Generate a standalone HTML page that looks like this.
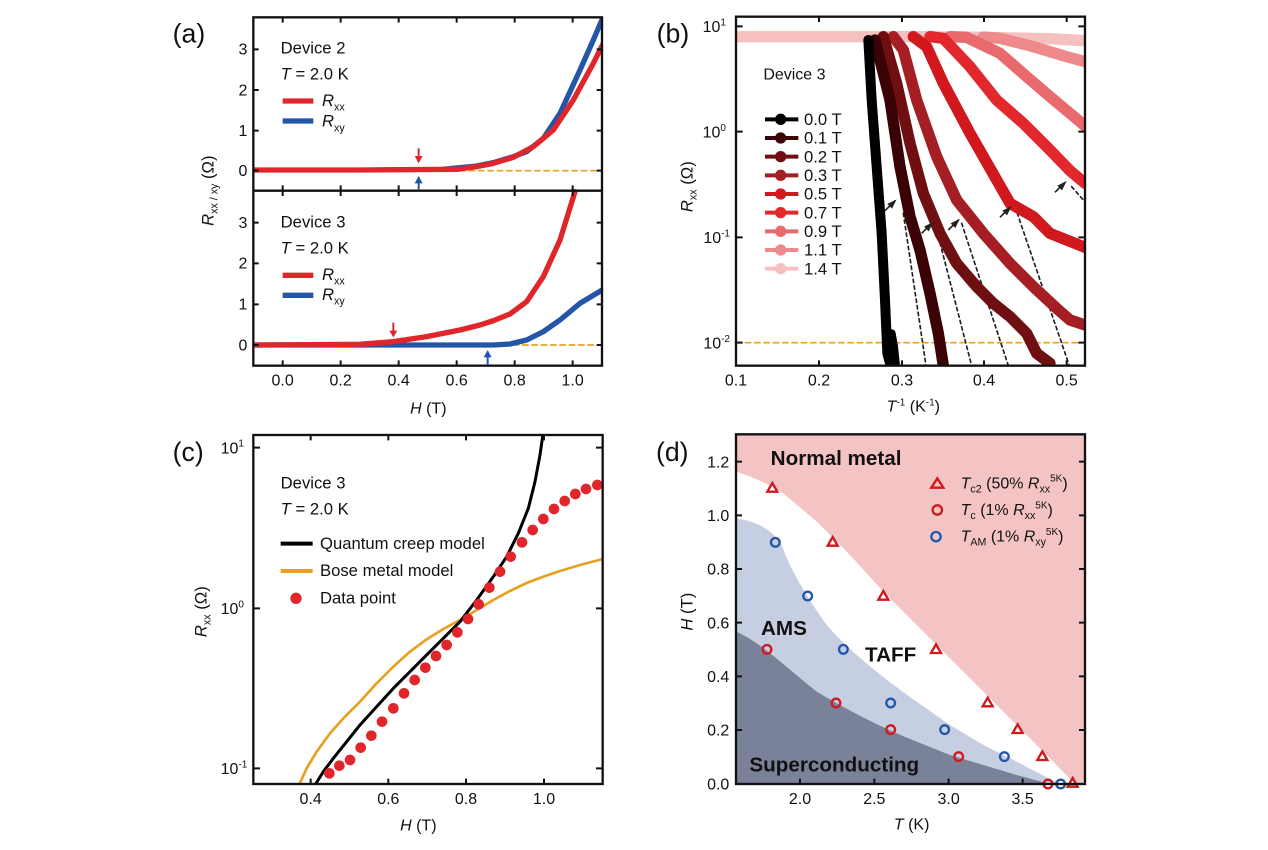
<!DOCTYPE html>
<html><head><meta charset="utf-8"><style>
body{margin:0;background:#fff}
svg text{font-family:"Liberation Sans",Arial,sans-serif;fill:#111}
</style></head><body>
<svg width="1268" height="845" viewBox="0 0 1268 845" xmlns="http://www.w3.org/2000/svg">
<rect width="1268" height="845" fill="#fff"/>

<!-- PANEL A -->
<g transform="translate(160,0) scale(0.33333)">
<defs><clipPath id="ca"><rect x="280" y="52" width="1046" height="1045"/></clipPath></defs>
<g clip-path="url(#ca)" fill="none" stroke-linejoin="round" stroke-linecap="round">
<line x1="900" y1="512" x2="1326" y2="512" stroke="#e8a020" stroke-width="5" stroke-dasharray="16,12"/>
<line x1="1060" y1="1035" x2="1326" y2="1035" stroke="#e8a020" stroke-width="5" stroke-dasharray="16,12"/>
<polyline stroke="#2355a8" stroke-width="16" points="850,508 950,498 1000,488 1060,470 1100,455 1150,415 1200,340 1260,210 1300,120 1330,50"/>
<polyline stroke="#e0262a" stroke-width="16" points="280,510 600,510 890,508 950,500 1000,490 1060,472 1120,440 1180,390 1240,300 1300,190 1330,130"/>
<polyline stroke="#2355a8" stroke-width="16" points="280,1035 1000,1035 1050,1032 1100,1020 1150,995 1200,960 1260,910 1330,868"/>
<polyline stroke="#e0262a" stroke-width="16" points="280,1035 600,1033 700,1025 800,1010 900,990 960,975 1000,962 1050,942 1100,905 1150,830 1200,720 1245,575"/>
</g>
<g fill="none" stroke="#111" stroke-width="7">
<rect x="280" y="52" width="1046" height="1045"/>
<line x1="280" y1="572" x2="1326" y2="572"/>
</g>
<g stroke="#111" stroke-width="6">
<path d="M368,1097v-16M542,1097v-16M716,1097v-16M890,1097v-16M1064,1097v-16M1238,1097v-16
M368,52v16M542,52v16M716,52v16M890,52v16M1064,52v16M1238,52v16
M368,572v-16M542,572v-16M716,572v-16M890,572v-16M1064,572v-16M1238,572v-16
M368,572v16M542,572v16M716,572v16M890,572v16M1064,572v16M1238,572v16
M280,148h16M280,270h16M280,392h16M280,512h16M280,668h16M280,790h16M280,913h16M280,1035h16
M1326,148h-16M1326,270h-16M1326,392h-16M1326,512h-16M1326,668h-16M1326,790h-16M1326,913h-16M1326,1035h-16"/>
</g>
<g stroke-width="6">
<line x1="776" y1="445" x2="776" y2="478" stroke="#e0262a"/><polygon points="764,468 788,468 776,490" fill="#e0262a"/>
<line x1="776" y1="568" x2="776" y2="540" stroke="#2355a8"/><polygon points="764,550 788,550 776,528" fill="#2355a8"/>
<line x1="700" y1="968" x2="700" y2="1000" stroke="#e0262a"/><polygon points="688,992 712,992 700,1012" fill="#e0262a"/>
<line x1="983" y1="1095" x2="983" y2="1065" stroke="#2355a8"/><polygon points="971,1072 995,1072 983,1050" fill="#2355a8"/>
</g>
<g font-size="48" text-anchor="end">
<text x="262" y="164">3</text><text x="262" y="286">2</text><text x="262" y="408">1</text><text x="262" y="528">0</text>
<text x="262" y="684">3</text><text x="262" y="806">2</text><text x="262" y="929">1</text><text x="262" y="1051">0</text>
</g>
<g font-size="48" text-anchor="middle">
<text x="368" y="1157">0.0</text><text x="542" y="1157">0.2</text><text x="716" y="1157">0.4</text><text x="890" y="1157">0.6</text><text x="1064" y="1157">0.8</text><text x="1238" y="1157">1.0</text>
<text x="805" y="1240"><tspan font-style="italic">H</tspan> (T)</text>
</g>
<text x="38" y="128" font-size="80">(a)</text>
<g font-size="50">
<text x="362" y="160">Device 2</text>
<text x="362" y="238"><tspan font-style="italic">T</tspan> = 2.0 K</text>
<text x="486" y="318" font-style="italic">R<tspan font-size="32" font-style="normal" dy="14">xx</tspan></text>
<text x="486" y="380" font-style="italic">R<tspan font-size="32" font-style="normal" dy="14">xy</tspan></text>
<text x="362" y="683">Device 3</text>
<text x="362" y="760"><tspan font-style="italic">T</tspan> = 2.0 K</text>
<text x="486" y="840" font-style="italic">R<tspan font-size="32" font-style="normal" dy="14">xx</tspan></text>
<text x="486" y="900" font-style="italic">R<tspan font-size="32" font-style="normal" dy="14">xy</tspan></text>
</g>
<g stroke-width="16">
<line x1="368" y1="303" x2="460" y2="303" stroke="#e0262a"/>
<line x1="368" y1="363" x2="460" y2="363" stroke="#2355a8"/>
<line x1="368" y1="826" x2="460" y2="826" stroke="#e0262a"/>
<line x1="368" y1="886" x2="460" y2="886" stroke="#2355a8"/>
</g>
<text transform="translate(160,572) rotate(-90)" font-size="50" text-anchor="middle"><tspan font-style="italic">R</tspan><tspan font-size="32" dy="12">xx / xy</tspan><tspan dy="-12"> (Ω)</tspan></text>
</g>

<!-- PANEL B -->
<g transform="translate(650,0) scale(0.33333)">
<defs><clipPath id="cb"><rect x="258" y="50" width="1047" height="1047"/></clipPath></defs>
<g clip-path="url(#cb)" fill="none" stroke-linejoin="round" stroke-linecap="round">
<line x1="258" y1="1028" x2="1305" y2="1028" stroke="#e8a020" stroke-width="5" stroke-dasharray="16,12"/>
<g stroke="#222" stroke-width="5" stroke-dasharray="10,10">
<line x1="760" y1="640" x2="828" y2="1097"/><line x1="860" y1="690" x2="965" y2="1097"/>
<line x1="935" y1="670" x2="1075" y2="1097"/><line x1="1095" y1="620" x2="1258" y2="1097"/>
<line x1="1265" y1="560" x2="1300" y2="600"/>
</g>
<polyline stroke="#f4c0c0" stroke-width="34" points="258,110 800,110 1000,112 1200,116 1305,122"/>
<polyline stroke="#ee8a8c" stroke-width="34" points="1000,111 1050,115 1150,140 1250,170 1305,185"/>
<polyline stroke="#e86a6c" stroke-width="34" points="900,110 950,112 1050,160 1130,230 1200,290 1260,340 1305,378"/>
<polyline stroke="#e2282c" stroke-width="34" points="840,110 880,115 960,200 1040,300 1120,370 1200,450 1260,512 1305,550"/>
<polyline stroke="#d0181e" stroke-width="34" points="790,110 830,140 880,250 960,400 1040,540 1080,610 1150,650 1200,700 1250,720 1305,742"/>
<polyline stroke="#a51e24" stroke-width="34" points="730,110 760,150 800,300 860,470 920,600 1000,700 1080,790 1150,860 1220,925 1260,960 1305,975"/>
<polyline stroke="#6f0f12" stroke-width="34" points="700,110 740,250 780,430 820,580 870,700 920,790 980,860 1030,910 1080,950 1130,1000 1160,1060 1200,1090"/>
<polyline stroke="#3a0204" stroke-width="34" points="675,120 720,300 750,500 780,650 810,750 840,880 865,1000 880,1097"/>
<polyline stroke="#000" stroke-width="30" points="655,120 665,300 680,500 695,700 705,900 712,1060 722,1097"/>
<polyline stroke="#000" stroke-width="24" points="725,1000 732,1040 738,1097"/>
</g>
<g stroke="#222" stroke-width="5"><line x1="705" y1="632" x2="735" y2="602"/><line x1="815" y1="700" x2="845" y2="670"/><line x1="895" y1="690" x2="925" y2="660"/><line x1="1050" y1="652" x2="1080" y2="622"/><line x1="1215" y1="577" x2="1245" y2="547"/></g>
<g fill="#222">
<polygon points="740,598 712,612 726,626"/><polygon points="850,666 822,680 836,694"/><polygon points="930,656 902,670 916,684"/><polygon points="1085,618 1057,632 1071,646"/><polygon points="1250,543 1222,557 1236,571"/>
</g>
<rect x="258" y="50" width="1047" height="1047" fill="none" stroke="#111" stroke-width="7"/>
<g stroke="#111" stroke-width="6">
<path d="M507,1097v-16M756,1097v-16M1002,1097v-16M1250,1097v-16M507,50v16M756,50v16M1002,50v16M1250,50v16
M258,79h20M258,395h20M258,712h20M258,1028h20M1305,79h-20M1305,395h-20M1305,712h-20M1305,1028h-20"/>
</g>
<g font-size="48" text-anchor="end">
<text x="228" y="96">10<tspan font-size="30" dy="-20">1</tspan></text>
<text x="228" y="413">10<tspan font-size="30" dy="-20">0</tspan></text>
<text x="240" y="729">10<tspan font-size="30" dy="-20">-1</tspan></text>
<text x="240" y="1046">10<tspan font-size="30" dy="-20">-2</tspan></text>
</g>
<g font-size="48" text-anchor="middle">
<text x="258" y="1157">0.1</text><text x="507" y="1157">0.2</text><text x="756" y="1157">0.3</text><text x="1002" y="1157">0.4</text><text x="1250" y="1157">0.5</text>
<text x="790" y="1234"><tspan font-style="italic">T</tspan><tspan font-size="30" dy="-18">-1</tspan><tspan dy="18"> (K</tspan><tspan font-size="30" dy="-18">-1</tspan><tspan dy="18">)</tspan></text>
</g>
<text x="20" y="128" font-size="80">(b)</text>
<text x="340" y="238" font-size="48">Device 3</text>
<g font-size="50">
<g stroke-width="12">
<line x1="345" y1="358" x2="445" y2="358" stroke="#000"/><line x1="345" y1="414" x2="445" y2="414" stroke="#3a0204"/>
<line x1="345" y1="470" x2="445" y2="470" stroke="#6f0f12"/><line x1="345" y1="526" x2="445" y2="526" stroke="#a51e24"/>
<line x1="345" y1="582" x2="445" y2="582" stroke="#d0181e"/><line x1="345" y1="638" x2="445" y2="638" stroke="#e2282c"/>
<line x1="345" y1="694" x2="445" y2="694" stroke="#e86a6c"/><line x1="345" y1="750" x2="445" y2="750" stroke="#ee8a8c"/>
<line x1="345" y1="806" x2="445" y2="806" stroke="#f4c0c0"/>
</g>
<circle cx="392" cy="358" r="17" fill="#000"/><circle cx="392" cy="414" r="17" fill="#3a0204"/><circle cx="392" cy="470" r="17" fill="#6f0f12"/>
<circle cx="392" cy="526" r="17" fill="#a51e24"/><circle cx="392" cy="582" r="17" fill="#d0181e"/><circle cx="392" cy="638" r="17" fill="#e2282c"/>
<circle cx="392" cy="694" r="17" fill="#e86a6c"/><circle cx="392" cy="750" r="17" fill="#ee8a8c"/><circle cx="392" cy="806" r="17" fill="#f4c0c0"/>
<text x="462" y="375">0.0 T</text><text x="462" y="431">0.1 T</text><text x="462" y="487">0.2 T</text><text x="462" y="543">0.3 T</text>
<text x="462" y="599">0.5 T</text><text x="462" y="655">0.7 T</text><text x="462" y="711">0.9 T</text><text x="462" y="767">1.1 T</text><text x="462" y="823">1.4 T</text>
</g>
<text transform="translate(128,560) rotate(-90)" font-size="50" text-anchor="middle"><tspan font-style="italic">R</tspan><tspan font-size="32" dy="12">xx</tspan><tspan dy="-12"> (Ω)</tspan></text>
</g>

<!-- PANEL C -->
<g transform="translate(160,425) scale(0.33333)">
<defs><clipPath id="cc"><rect x="280" y="30" width="1048" height="1047"/></clipPath></defs>
<g clip-path="url(#cc)" fill="none" stroke-linejoin="round">
<polyline stroke="#e8a020" stroke-width="8" points="415,1085 440,1030 470,980 510,925 550,880 600,830 650,775 700,725 750,680 800,643 850,612 900,585 950,555 1000,525 1050,498 1100,474 1150,455 1200,438 1260,420 1328,402"/>
<polyline stroke="#000" stroke-width="9" points="462,1085 490,1040 520,1000 560,950 600,900 650,845 700,790 760,730 800,690 850,640 900,590 950,525 1000,455 1040,395 1075,325 1105,250 1125,170 1140,90 1150,20"/>
<g fill="#e0262a" stroke="none">
<circle cx="508" cy="1045" r="16"/><circle cx="538" cy="1022" r="16"/><circle cx="570" cy="1005" r="16"/><circle cx="602" cy="968" r="16"/><circle cx="634" cy="932" r="16"/><circle cx="666" cy="890" r="16"/><circle cx="700" cy="850" r="16"/><circle cx="732" cy="805" r="16"/><circle cx="764" cy="765" r="16"/><circle cx="796" cy="728" r="16"/><circle cx="828" cy="693" r="16"/><circle cx="860" cy="660" r="16"/><circle cx="892" cy="622" r="16"/><circle cx="924" cy="582" r="16"/><circle cx="956" cy="538" r="16"/><circle cx="988" cy="488" r="16"/><circle cx="1020" cy="440" r="16"/><circle cx="1052" cy="395" r="16"/><circle cx="1086" cy="352" r="16"/><circle cx="1118" cy="315" r="16"/><circle cx="1150" cy="282" r="16"/><circle cx="1182" cy="252" r="16"/><circle cx="1214" cy="228" r="16"/><circle cx="1246" cy="207" r="16"/><circle cx="1278" cy="192" r="16"/><circle cx="1312" cy="180" r="16"/>
</g>
</g>
<rect x="280" y="30" width="1048" height="1047" fill="none" stroke="#111" stroke-width="7"/>
<g stroke="#111" stroke-width="6">
<path d="M452,1077v-16M685,1077v-16M918,1077v-16M1152,1077v-16M452,30v16M685,30v16M918,30v16M1152,30v16
M280,68h20M280,550h20M280,1030h20M1328,68h-20M1328,550h-20M1328,1030h-20"/>
</g>
<g font-size="48" text-anchor="end">
<text x="252" y="85">10<tspan font-size="30" dy="-20">1</tspan></text>
<text x="252" y="567">10<tspan font-size="30" dy="-20">0</tspan></text>
<text x="262" y="1047">10<tspan font-size="30" dy="-20">-1</tspan></text>
</g>
<g font-size="48" text-anchor="middle">
<text x="452" y="1137">0.4</text><text x="685" y="1137">0.6</text><text x="918" y="1137">0.8</text><text x="1152" y="1137">1.0</text>
<text x="775" y="1217"><tspan font-style="italic">H</tspan> (T)</text>
</g>
<text x="38" y="108" font-size="80">(c)</text>
<g font-size="50">
<text x="362" y="190">Device 3</text>
<text x="362" y="268"><tspan font-style="italic">T</tspan> = 2.0 K</text>
<text x="480" y="372">Quantum creep model</text>
<text x="480" y="453">Bose metal model</text>
<text x="480" y="535">Data point</text>
</g>
<line x1="362" y1="356" x2="458" y2="356" stroke="#000" stroke-width="12"/>
<line x1="362" y1="438" x2="458" y2="438" stroke="#e8a020" stroke-width="12"/>
<circle cx="408" cy="520" r="17" fill="#e0262a"/>
<text transform="translate(140,560) rotate(-90)" font-size="50" text-anchor="middle"><tspan font-style="italic">R</tspan><tspan font-size="32" dy="12">xx</tspan><tspan dy="-12"> (Ω)</tspan></text>
</g>

<!-- PANEL D -->
<g transform="translate(650,425) scale(0.33333)">
<defs>
<clipPath id="cd"><rect x="258" y="28" width="1047" height="1049"/></clipPath>
</defs>
<g clip-path="url(#cd)">
<rect x="258" y="28" width="1047" height="1049" fill="#f4c4c4"/>
<path d="M258,140 C320,160 360,180 400,205 L500,290 L600,390 L700,500 L800,600 L900,700 L1000,800 L1100,900 L1200,1000 L1275,1077 L258,1077Z" fill="#fff"/>
<path d="M258,280 C330,290 370,320 395,360 C420,430 460,500 530,600 C600,680 700,760 800,830 L900,900 L1000,960 L1100,1010 L1200,1062 L1235,1077 L258,1077Z" fill="#c6cfe1"/>
<path d="M258,620 C330,650 400,720 500,800 C600,860 700,910 800,950 L900,990 L1000,1020 L1100,1050 L1200,1077 L258,1077Z" fill="#7a8299"/>
</g>
<g fill="none" stroke-width="7">
<g stroke="#d0181e">
<polygon points="367,174 382,200 352,200"/><polygon points="548,336 563,362 533,362"/><polygon points="700,498 715,524 685,524"/><polygon points="858,658 873,684 843,684"/><polygon points="1013,818 1028,844 998,844"/><polygon points="1103,898 1118,924 1088,924"/><polygon points="1177,979 1192,1005 1162,1005"/><polygon points="1268,1059 1283,1085 1253,1085"/>
<circle cx="351" cy="673" r="13"/><circle cx="558" cy="834" r="13"/><circle cx="722" cy="914" r="13"/><circle cx="926" cy="995" r="13"/><circle cx="1194" cy="1077" r="13"/>
<polygon points="862,160 880,188 844,188"/><circle cx="862" cy="255" r="14"/>
</g>
<g stroke="#2355a8">
<circle cx="376" cy="352" r="13"/><circle cx="473" cy="513" r="13"/><circle cx="580" cy="673" r="13"/><circle cx="722" cy="834" r="13"/><circle cx="884" cy="914" r="13"/><circle cx="1063" cy="995" r="13"/><circle cx="1232" cy="1077" r="13"/>
<circle cx="858" cy="335" r="14"/>
</g>
</g>
<rect x="258" y="28" width="1047" height="1049" fill="none" stroke="#111" stroke-width="7"/>
<g stroke="#111" stroke-width="6">
<path d="M450,1077v-16M673,1077v-16M896,1077v-16M1118,1077v-16
M258,915h18M258,754h18M258,593h18M258,432h18M258,271h18M258,110h18
M1305,915h-18M1305,754h-18M1305,593h-18M1305,432h-18M1305,271h-18M1305,110h-18"/>
</g>
<g font-size="48" text-anchor="end">
<text x="238" y="1094">0.0</text><text x="238" y="932">0.2</text><text x="238" y="771">0.4</text><text x="238" y="610">0.6</text><text x="238" y="449">0.8</text><text x="238" y="288">1.0</text><text x="238" y="127">1.2</text>
</g>
<g font-size="48" text-anchor="middle">
<text x="450" y="1137">2.0</text><text x="673" y="1137">2.5</text><text x="896" y="1137">3.0</text><text x="1118" y="1137">3.5</text>
<text x="785" y="1214"><tspan font-style="italic">T</tspan> (K)</text>
</g>
<text x="18" y="108" font-size="80">(d)</text>
<g font-size="62" font-weight="bold">
<text x="362" y="120">Normal metal</text>
<text x="333" y="630">AMS</text>
<text x="645" y="710">TAFF</text>
<text x="298" y="1040">Superconducting</text>
</g>
<g font-size="48">
<text x="932" y="190"><tspan font-style="italic">T</tspan><tspan font-size="32" dy="12">c2</tspan><tspan dy="-12"> (50% </tspan><tspan font-style="italic">R</tspan><tspan font-size="32" dy="12">xx</tspan><tspan font-size="30" dy="-32">5K</tspan><tspan dy="20">)</tspan></text>
<text x="932" y="270"><tspan font-style="italic">T</tspan><tspan font-size="32" dy="12">c</tspan><tspan dy="-12">  (1% </tspan><tspan font-style="italic">R</tspan><tspan font-size="32" dy="12">xx</tspan><tspan font-size="30" dy="-32">5K</tspan><tspan dy="20">)</tspan></text>
<text x="932" y="350"><tspan font-style="italic">T</tspan><tspan font-size="32" dy="12">AM</tspan><tspan dy="-12"> (1% </tspan><tspan font-style="italic">R</tspan><tspan font-size="32" dy="12">xy</tspan><tspan font-size="30" dy="-32">5K</tspan><tspan dy="20">)</tspan></text>
</g>
<text transform="translate(128,560) rotate(-90)" font-size="50" text-anchor="middle"><tspan font-style="italic">H</tspan> (T)</text>
</g>
</svg>
</body></html>
